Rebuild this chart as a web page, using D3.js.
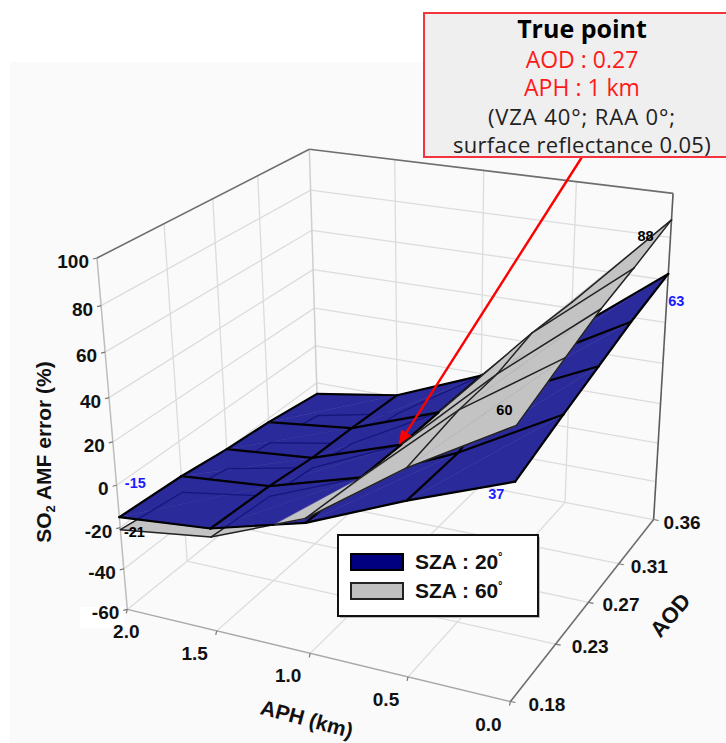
<!DOCTYPE html>
<html>
<head>
<meta charset="utf-8">
<style>
  body { margin: 0; background: #fff; }
  text { font-family: "Liberation Sans", Arial, sans-serif; }
  .note { font-family: "Open Sans", sans-serif; text-anchor: middle; }
</style>
</head>
<body>
<svg id="chart" width="726" height="743"></svg>
<script src="https://cdn.jsdelivr.net/npm/d3@7"></script>
<script>
// values
const aphTicks = [2.0, 1.5, 1.0, 0.5, 0.0];
const aodTicks = [0.18, 0.23, 0.27, 0.31, 0.36];
const errTicks = [-60, -40, -20, 0, 20, 40, 60, 80, 100];

// grid axes of the two surfaces, rows follow aodGrid, columns follow aphGrid
const aphGrid = [0.0, 0.5, 1.0, 1.5, 2.0];
const aodGrid = [0.18, 0.23, 0.27, 0.31, 0.36];
const sza20 = [
  [37, 20, 1, -11, -15],
  [45, 20, 0, -13, -17],
  [51, 30, -1, -16, -20],
  [57, 32, -1, -17, -22],
  [63, 29, -1, -19, -26]
];
const sza60 = [
  [60, 34, 3, -15, -21],
  [69, 39, 0, -18, -25],
  [76, 40, -1, -21, -30],
  [81, 45, -1, -25, -33],
  [88, 43, -1, -29, -38]
];

const blueFill = '#2a2a9a', greyFill = '#c3c3c3';

const svg = d3.select('#chart');

// box coordinates 0..1
const ux = d3.scaleLinear().domain([2, 0]).range([0, 1]);
const vy = d3.scaleLinear().domain([0.18, 0.36]).range([0, 1]);
const wz = d3.scaleLinear().domain([-60, 100]).range([0, 1]);

// where known box points land on the page, the camera is fitted to these
const camPoints = [[0,0,0,127,609],[1,0,0,509,702],[1,1,0,652,520],[0,1,0,318.6,455],
  [0,0,1,97,257],[0,1,1,309,149],[1,1,1,673,194],[0,0,.375,115,486],[0,0,.25,122,528],
  [0,0,.625,110,398],[.25,0,0,217,631],[.5,0,0,310,653],[.75,0,0,407,677],
  [1,1/3.6,0,556,644],[1,.5,0,589,602],[1,.72,0,621.5,563]];

function fitCamera() {
  const n = 11;
  const A = d3.range(n).map(() => new Array(n + 1).fill(0));
  const add = (r, b) => {
    for (let i = 0; i < n; i++) {
      for (let j = 0; j < n; j++) A[i][j] += r[i] * r[j];
      A[i][n] += r[i] * b;
    }
  };
  camPoints.forEach(([u, v, w, x, y]) => {
    add([u, v, w, 1, 0, 0, 0, 0, -x*u, -x*v, -x*w], x);
    add([0, 0, 0, 0, u, v, w, 1, -y*u, -y*v, -y*w], y);
  });
  for (let i = 0; i < n; i++) {
    let p = i;
    for (let k = i; k < n; k++) if (Math.abs(A[k][i]) > Math.abs(A[p][i])) p = k;
    [A[i], A[p]] = [A[p], A[i]];
    for (let k = 0; k < n; k++) {
      if (k === i) continue;
      const f = A[k][i] / A[i][i];
      for (let j = i; j <= n; j++) A[k][j] -= f * A[i][j];
    }
  }
  return A.map((r, i) => r[n] / r[i]);
}
const P = fitCamera();

function project(aph, aod, err) {
  const u = ux(aph), v = vy(aod), w = wz(err);
  const d = P[8]*u + P[9]*v + P[10]*w + 1;
  return [(P[0]*u + P[1]*v + P[2]*w + P[3]) / d, (P[4]*u + P[5]*v + P[6]*w + P[7]) / d];
}

const path = d3.line();
function seg(g, a, b, color, width) {
  return g.append('line').attr('x1', a[0]).attr('y1', a[1]).attr('x2', b[0]).attr('y2', b[1])
    .attr('stroke', color).attr('stroke-width', width);
}

// background panel
svg.append('rect').attr('x', 10).attr('y', 62).attr('width', 716).attr('height', 681).attr('fill', '#fafafa');
svg.append('rect').attr('x', 80).attr('y', 607).attr('width', 44).attr('height', 21).attr('fill', '#fff');

// walls and floor
const grid = svg.append('g');
const gridColor = '#dcdcdc';
errTicks.slice(1, -1).forEach(e => {
  seg(grid, project(2, 0.18, e), project(2, 0.36, e), gridColor, 1.3);
  seg(grid, project(2, 0.36, e), project(0, 0.36, e), gridColor, 1.3);
});
aodTicks.slice(1, -1).forEach(a => {
  seg(grid, project(2, a, -60), project(2, a, 100), gridColor, 1.3);
  seg(grid, project(2, a, -60), project(0, a, -60), gridColor, 1.3);
});
aphTicks.slice(1, -1).forEach(a => {
  seg(grid, project(a, 0.36, -60), project(a, 0.36, 100), gridColor, 1.3);
  seg(grid, project(a, 0.18, -60), project(a, 0.36, -60), gridColor, 1.3);
});
seg(grid, project(2, 0.36, -60), project(2, 0.36, 100), '#cfcfcf', 1.5);
seg(grid, project(2, 0.36, -60), project(2, 0.18, -60), '#dcdcdc', 1.3);
seg(grid, project(2, 0.36, -60), project(0, 0.36, -60), '#dcdcdc', 1.3);
seg(grid, project(2, 0.18, -60), project(2, 0.18, 100), '#bdbdbd', 1.5);
seg(grid, project(2, 0.18, 100), project(2, 0.36, 100), '#6e6e6e', 1.6);
seg(grid, project(2, 0.36, 100), project(0, 0.36, 100), '#6e6e6e', 1.6);
seg(grid, project(0, 0.36, 100), project(0, 0.36, -60), '#5c5c5c', 1.6);
seg(grid, project(2, 0.18, -60), project(0, 0.18, -60), '#a8a8a8', 1.5);
seg(grid, project(0, 0.18, -60), project(0, 0.36, -60), '#6e6e6e', 1.6);

// ticks
errTicks.forEach(e => {
  const p = project(2, 0.18, e);
  seg(grid, p, [p[0] - 4, p[1] + 1], '#777', 1.2);
});
aphTicks.forEach(a => {
  const p = project(a, 0.18, -60);
  seg(grid, p, [p[0] - 1, p[1] + 4], '#777', 1.2);
});
aodTicks.forEach(a => {
  const p = project(0, a, -60);
  seg(grid, p, [p[0] + 5, p[1] + 1], '#777', 1.2);
});

// surfaces: walk the cells far to near, inside a cell paint the lower surface first
const surf = svg.append('g').attr('stroke-linejoin', 'round').attr('stroke-linecap', 'round');
const vert = (i, j) => ({ aph: aphGrid[j], aod: aodGrid[i], b: sza20[i][j], g: sza60[i][j] });
const mix = (p, q, t) => ({ aph: p.aph + (q.aph - p.aph) * t, aod: p.aod + (q.aod - p.aod) * t,
  b: p.b + (q.b - p.b) * t, g: p.g + (q.g - p.g) * t });
const onPage = (p, key) => project(p.aph, p.aod, p[key]);

// grey mesh seen through the blue sheet only shows inside the blue outline
const blueMask = svg.append('defs').append('clipPath').attr('id', 'blue-mask');
for (let i = 0; i < aodGrid.length - 1; i++) {
  for (let j = 0; j < aphGrid.length - 1; j++) {
    const tri = [vert(i, j), vert(i + 1, j), vert(i, j + 1)];
    const tri2 = [vert(i + 1, j + 1), vert(i + 1, j), vert(i, j + 1)];
    [tri, tri2].forEach(t => blueMask.append('path').attr('d', path(t.map(p => onPage(p, 'b'))) + 'Z'));
  }
}

function clipBySign(poly, sign) {
  const out = [];
  poly.forEach((p, k) => {
    const q = poly[(k + 1) % poly.length];
    const dp = (p.g - p.b) * sign, dq = (q.g - q.b) * sign;
    if (dp >= 0) out.push(p);
    if (dp * dq < 0) out.push(mix(p, q, dp / (dp - dq)));
  });
  return out;
}
function fillPoly(poly, key) {
  if (poly.length < 3) return;
  const color = key === 'b' ? blueFill : greyFill;
  surf.append('path').attr('d', path(poly.map(p => onPage(p, key))) + 'Z')
    .attr('fill', color).attr('stroke', color).attr('stroke-width', 0.5);
}
// pass 'under' goes before the upper sheet is filled, pass 'top' after it
function edge(p, q, key, pass) {
  const draw = (a, b, top) => {
    const pa = onPage(a, key), pb = onPage(b, key);
    if (pass === 'under' && !top) {
      seg(surf, pa, pb, key === 'b' ? '#000' : '#222', key === 'b' ? 2.2 : 1.5);
    }
    if (pass === 'top') {
      if (key === 'b' && top) seg(surf, pa, pb, '#000', 2.2);
      if (key === 'g' && top) seg(surf, pa, pb, '#222', 1.5);
      if (key === 'g' && !top) seg(surf, pa, pb, '#16167c', 1.3).attr('clip-path', 'url(#blue-mask)');
    }
  };
  const dp = p.g - p.b, dq = q.g - q.b;
  const isTop = d => key === 'g' ? d >= 0 : d <= 0;
  if (dp * dq < 0) {
    const m = mix(p, q, dp / (dp - dq));
    draw(p, m, isTop(dp));
    draw(m, q, isTop(dq));
  } else {
    draw(p, q, isTop(dp + dq));
  }
}

for (let i = aodGrid.length - 2; i >= 0; i--) {
  for (let j = aphGrid.length - 2; j >= 0; j--) {
    const near = vert(i, j), right = vert(i + 1, j), left = vert(i, j + 1), far = vert(i + 1, j + 1);
    const pieces = [[far, right, left], [near, right, left]]
      .map(tri => ({ greyUp: clipBySign(tri, 1), blueUp: clipBySign(tri, -1) }));
    const edges = pass => ['g', 'b'].forEach(key => {
      edge(right, far, key, pass);
      edge(left, far, key, pass);
      if (i === 0) edge(near, left, key, pass);
      if (j === 0) edge(near, right, key, pass);
    });
    pieces.forEach(s => { fillPoly(s.greyUp, 'b'); fillPoly(s.blueUp, 'g'); });
    edges('under');
    pieces.forEach(s => { fillPoly(s.greyUp, 'g'); fillPoly(s.blueUp, 'b'); });
    edges('top');
  }
}

// value labels at the surface corners
const valueLabel = (aph, aod, err, text, color, dx, dy) => {
  const p = project(aph, aod, err);
  svg.append('text').attr('x', p[0] + dx).attr('y', p[1] + dy).attr('text-anchor', 'middle')
    .attr('font-size', 14.5).attr('font-weight', 'bold').attr('fill', color).text(text);
};
valueLabel(2, 0.18, -15, '-15', '#1a1aff', 16, -29);
valueLabel(2, 0.18, -21, '-21', '#000', 14, 7);
valueLabel(0, 0.18, 37, '37', '#1a1aff', -19, 17);
valueLabel(0, 0.18, 60, '60', '#000', -12, -10);
valueLabel(0, 0.36, 88, '88', '#000', -26, 21);
valueLabel(0, 0.36, 63, '63', '#1a1aff', 8, 32);

// axis labels
const axisText = (x, y, text, anchor, size) => svg.append('text').attr('x', x).attr('y', y)
  .attr('text-anchor', anchor).attr('font-size', size || 19).attr('font-weight', 'bold').attr('fill', '#111').text(text);
errTicks.forEach(e => {
  const p = project(2, 0.18, e);
  axisText(p[0] - 8, p[1] + 10, e, 'end');
});
aphTicks.forEach((a, k) => {
  const p = project(a, 0.18, -60);
  const dx = k === 0 ? -1 : -22;
  axisText(p[0] + dx, p[1] + 29, a.toFixed(1), 'middle');
});
aodTicks.forEach((a, k) => {
  const p = project(0, a, -60);
  axisText(p[0] + 18 - k * 2, p[1] + 9, a.toFixed(2), 'start');
});
axisText(0, 0, 'APH (km)', 'middle', 21).attr('transform', 'translate(305,726) rotate(15)');
axisText(0, 0, 'AOD', 'middle', 22).attr('transform', 'translate(676,620) rotate(-50)');
const yTitle = axisText(0, 0, 'SO', 'middle', 21).attr('transform', 'translate(51,452) rotate(-90)');
yTitle.append('tspan').attr('font-size', 13).attr('dy', 4).text('2');
yTitle.append('tspan').attr('dy', -4).text(' AMF error (%)');

// legend
const legend = svg.append('g');
legend.append('rect').attr('x', 340).attr('y', 537).attr('width', 200).attr('height', 81).attr('fill', '#bbb');
legend.append('rect').attr('x', 338).attr('y', 535).attr('width', 200).attr('height', 81)
  .attr('fill', '#fff').attr('stroke', '#111').attr('stroke-width', 2);
[['SZA : 20', '#000080', '#000', 554], ['SZA : 60', '#c0c0c0', '#222', 583]].forEach(d => {
  legend.append('rect').attr('x', 351).attr('y', d[3]).attr('width', 52).attr('height', 16)
    .attr('fill', d[1]).attr('stroke', d[2]).attr('stroke-width', 2);
  const t = legend.append('text').attr('x', 415).attr('y', d[3] + 15).attr('font-size', 21)
    .attr('font-weight', 'bold').attr('fill', '#111').text(d[0]);
  t.append('tspan').attr('font-size', 14).attr('dy', -5).text('˚');
});

// arrow
svg.append('defs').append('marker').attr('id', 'head').attr('markerUnits', 'userSpaceOnUse')
  .attr('viewBox', '0 0 14 12').attr('refX', 13).attr('refY', 6).attr('markerWidth', 14).attr('markerHeight', 12)
  .attr('orient', 'auto').append('path').attr('d', 'M0,0L14,6L0,12Z').attr('fill', '#f00');
const tip = project(1.0, 0.27, 0);
svg.append('line').attr('x1', 582).attr('y1', 157).attr('x2', tip[0] - 2).attr('y2', tip[1] + 1)
  .attr('stroke', '#f00').attr('stroke-width', 2.4).attr('marker-end', 'url(#head)');

// call-out
svg.append('rect').attr('x', 424).attr('y', 13).attr('width', 304).attr('height', 144)
  .attr('fill', '#efefef').attr('stroke', '#f5333f').attr('stroke-width', 2);
[['True point', 25, 'bold', '#000', 38, 0], ['AOD : 0.27', 23, 'normal', '#ff1a1a', 68, 0],
 ['APH : 1 km', 23, 'normal', '#ff1a1a', 96, 0], ['(VZA 40°; RAA 0°;', 22, 'normal', '#222', 125, 0.9],
 ['surface reflectance 0.05)', 22, 'normal', '#222', 153, 0.3]].forEach(d => {
  svg.append('text').attr('class', 'note').attr('x', 582).attr('y', d[4]).attr('font-size', d[1])
    .attr('font-weight', d[2]).attr('fill', d[3]).attr('letter-spacing', d[5]).text(d[0]);
});
</script>
</body>
</html>
